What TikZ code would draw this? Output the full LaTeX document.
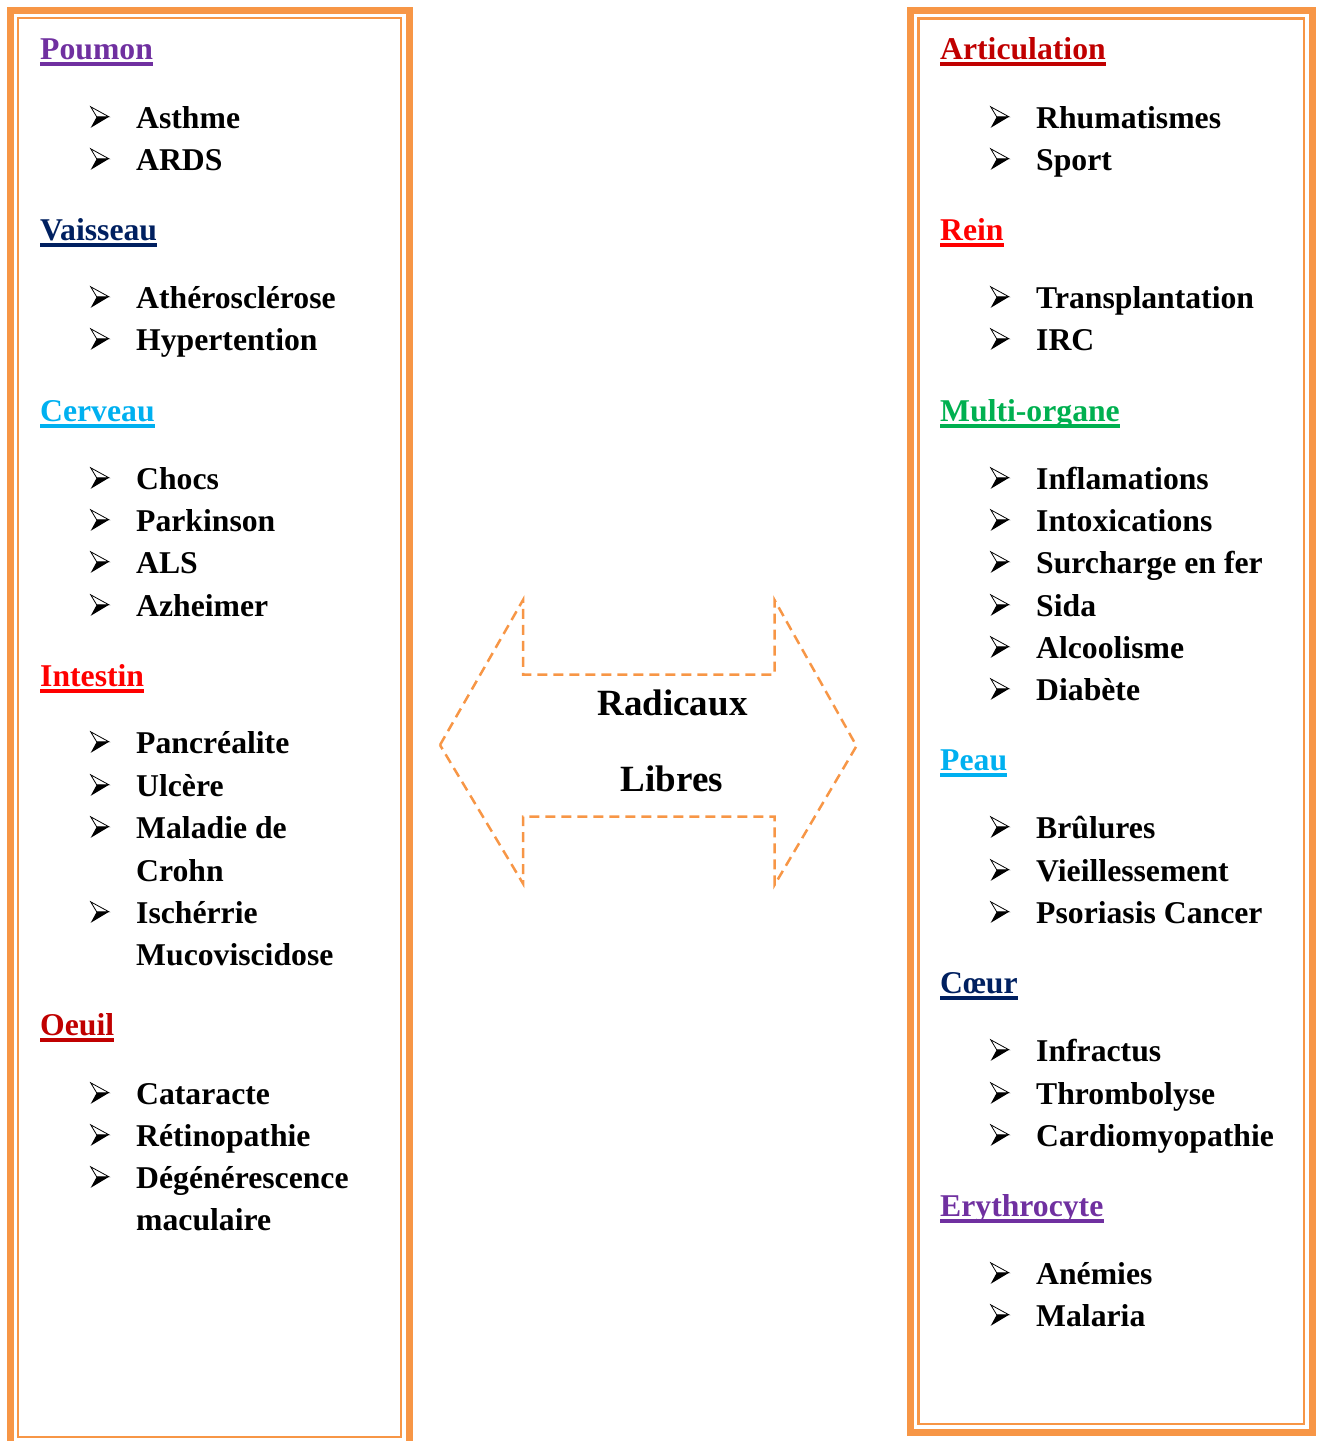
\documentclass[tikz,border=0pt]{standalone}
\usepackage{fontspec}
\setmainfont{Liberation Serif}
\definecolor{orng}{HTML}{F79646}
\definecolor{cpurple}{HTML}{7030A0}
\definecolor{cnavy}{HTML}{002060}
\definecolor{clblue}{HTML}{00B0F0}
\definecolor{cred}{HTML}{FF0000}
\definecolor{cdred}{HTML}{C00000}
\definecolor{cgreen}{HTML}{00B050}
\tikzset{
  txt/.style={anchor=base west, inner sep=0pt, font=\fontsize{31.7}{38}\selectfont\bfseries},
  head/.style={txt, text=#1},
  outerframe/.style={draw=orng, line width=7pt, line join=miter},
  innerframe/.style={draw=orng, line width=2.5pt},
  bul/.pic={
    \fill[black] (6,-11.7) -- (18.3,-11.7) -- (0,-0.7) -- cycle;
    \draw[black, line width=0.8pt, line join=miter] (0,-21.7) -- (18.3,-11.7) -- (6,-11.7) -- cycle;
  }
}
\newcommand\myhead[5]{%
  \node[head=#4] (#1) at (#2,#3) {#5};
  \draw[#4, line width=3.6pt] ([yshift=-4.2pt]#1.base west) -- ([yshift=-4.2pt]#1.base east);}
\newcommand\myitem[4]{%
  \pic at (#2-45.3,#3) {bul};
  \node[txt] (#1) at (#2,#3) {#4};}
\newcommand\mycont[4]{%
  \node[txt] (#1) at (#2,#3) {#4};}
\begin{document}
\begin{tikzpicture}[x=1pt,y=-1pt]
\useasboundingbox (0,0) rectangle (1317,1441);
% frames
\draw[outerframe] (10.5,1441) -- (10.5,10.5) -- (409.5,10.5) -- (409.5,1441);
\draw[innerframe] (18,18) rectangle (401,1437);
\draw[outerframe] (910.5,10.5) rectangle (1312,1432);
\draw[innerframe] (918.5,18.5) rectangle (1304,1424);
% left column
\myhead{poumon}{40}{59.5}{cpurple}{Poumon}
\myitem{asthme}{136}{128.5}{Asthme}
\myitem{ards}{136}{170.5}{ARDS}
\myhead{vaisseau}{40}{240.5}{cnavy}{Vaisseau}
\myitem{athero}{136}{308.5}{Athérosclérose}
\myitem{hyper}{136}{350.5}{Hypertention}
\myhead{cerveau}{40}{421.5}{clblue}{Cerveau}
\myitem{chocs}{136}{489.5}{Chocs}
\myitem{parkinson}{136}{531.5}{Parkinson}
\myitem{als}{136}{573.5}{ALS}
\myitem{azheimer}{136}{616.5}{Azheimer}
\myhead{intestin}{40}{686.5}{cred}{Intestin}
\myitem{pancrea}{136}{753.5}{Pancréalite}
\myitem{ulcere}{136}{796.5}{Ulcère}
\myitem{maladie}{136}{838.5}{Maladie de}
\mycont{crohn}{136}{881.5}{Crohn}
\myitem{ischerrie}{136}{923.5}{Ischérrie}
\mycont{muco}{136}{965.5}{Mucoviscidose}
\myhead{oeuil}{40}{1035.5}{cdred}{Oeuil}
\myitem{cataracte}{136}{1104.5}{Cataracte}
\myitem{retino}{136}{1146.5}{Rétinopathie}
\myitem{degen}{136}{1188.5}{Dégénérescence}
\mycont{maculaire}{136}{1230.5}{maculaire}
% right column
\myhead{articulation}{940}{59.5}{cdred}{Articulation}
\myitem{rhuma}{1036}{128.5}{Rhumatismes}
\myitem{sport}{1036}{170.5}{Sport}
\myhead{rein}{940}{240.5}{cred}{Rein}
\myitem{transpl}{1036}{308.5}{Transplantation}
\myitem{irc}{1036}{350.5}{IRC}
\myhead{multi}{940}{421.5}{cgreen}{Multi-organe}
\myitem{inflam}{1036}{489.5}{Inflamations}
\myitem{intox}{1036}{531.5}{Intoxications}
\myitem{surcharge}{1036}{573.5}{Surcharge en fer}
\myitem{sida}{1036}{616.5}{Sida}
\myitem{alcool}{1036}{658.5}{Alcoolisme}
\myitem{diabete}{1036}{700.5}{Diabète}
\myhead{peau}{940}{770.5}{clblue}{Peau}
\myitem{brulures}{1036}{838.5}{Brûlures}
\myitem{vieil}{1036}{881.5}{Vieillessement}
\myitem{psoriasis}{1036}{923.5}{Psoriasis Cancer}
\myhead{coeur}{940}{993.5}{cnavy}{Cœur}
\myitem{infractus}{1036}{1061.5}{Infractus}
\myitem{thrombo}{1036}{1104.5}{Thrombolyse}
\myitem{cardio}{1036}{1146.5}{Cardiomyopathie}
\myhead{erythro}{940}{1216.5}{cpurple}{Erythrocyte}
\myitem{anemies}{1036}{1284.5}{Anémies}
\myitem{malaria}{1036}{1326.5}{Malaria}
% central double arrow
\draw[orng, line width=2.5pt, dash pattern=on 10pt off 6pt, line join=miter]
  (440,745) -- (523,600) -- (523,674.5) -- (774.5,674.5) -- (774.5,600)
  -- (856.5,746) -- (774.5,885) -- (774.5,816.5) -- (523,816.5) -- (523,883.5) -- cycle;
\node[anchor=base, inner sep=0pt, font=\fontsize{37}{44}\selectfont\bfseries] (radicaux) at (672.5,715) {Radicaux};
\node[anchor=base, inner sep=0pt, font=\fontsize{37}{44}\selectfont\bfseries] (libres) at (672,791) {Libres};
\end{tikzpicture}
\end{document}
